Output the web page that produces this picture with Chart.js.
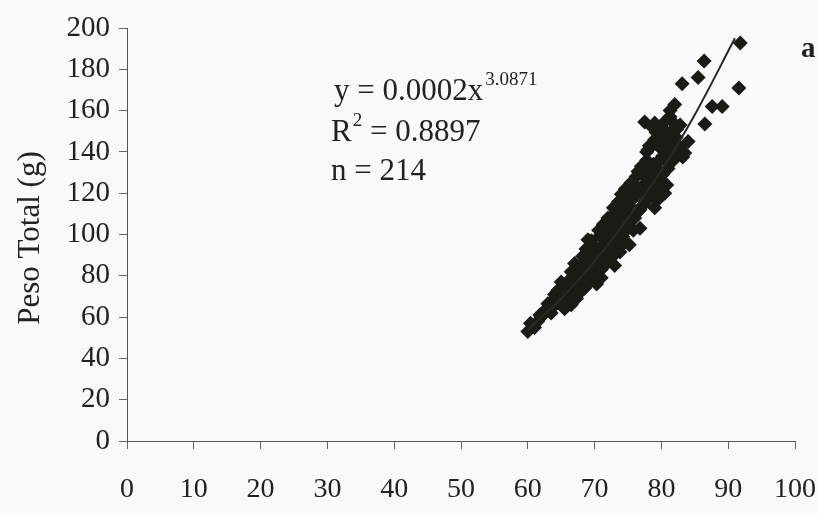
<!DOCTYPE html>
<html>
<head>
<meta charset="utf-8">
<script src="https://cdn.jsdelivr.net/npm/chart.js@4"></script>
<style>
  html, body { margin: 0; padding: 0; background: #f7f9fb; }
  canvas { display: block; }
</style>
</head>
<body>
<canvas id="grafico" width="818" height="513"></canvas>
<script>
// Comprimento (cm) x Peso Total (g)
var comprimento = [
  60.0, 60.4, 61.5, 62.0,
  62.8, 63.5, 64.5, 65.5, 66.5, 67.3, 64.0, 65.8, 63.0,
  64.5, 65.5, 66.5, 67.5, 68.5, 69.5, 66.2, 67.8, 70.3, 71.0, 65.0,
  66.5, 67.0, 67.8, 68.5, 69.3, 70.2, 71.0, 71.8, 72.6, 69.0, 73.0, 68.2,
  68.7, 69.5, 70.3, 71.2, 72.0, 72.8, 73.8, 74.5, 70.8, 73.3, 69.0, 75.2,
  70.6, 71.3, 72.0, 72.8, 73.6, 74.4, 75.2, 76.0, 76.8, 74.6, 73.0,
  72.8, 73.6, 74.4, 75.2, 76.0, 76.8, 77.6, 78.4, 79.0, 79.5, 80.5, 74.0, 75.8,
  74.6, 75.4, 76.2, 77.0, 77.8, 78.6, 79.4, 80.2, 80.8, 76.5, 79.0,
  77.0, 77.8, 78.6, 79.4, 80.2, 81.0, 81.8, 82.4, 77.8, 83.5, 83.2,
  78.2, 79.0, 79.8, 80.6, 81.4, 82.2, 82.8, 79.2, 81.5, 84.0, 78.0,
  77.5, 79.0, 80.0, 81.7, 82.8, 81.3, 81.3, 82.0,
  83.1, 85.5, 86.4, 91.8, 91.6, 87.6, 89.1, 86.5,
  61.0, 61.8, 63.8, 65.0, 66.0, 64.0, 66.0, 67.0, 68.0, 69.0, 70.0, 67.5,
  68.8, 69.8, 70.8, 71.5, 72.3, 70.0, 71.5, 72.5, 73.5, 74.2, 71.8, 73.0,
  73.8, 74.8, 75.8, 72.6, 74.0, 75.0, 76.2, 77.2, 78.0, 75.0, 76.4, 77.2,
  78.0, 79.2, 76.0, 77.6, 79.0, 80.0, 77.8, 78.8, 79.8, 80.6, 81.6, 80.2,
  81.0, 82.0, 79.6, 80.6, 82.3, 78.6
];
var pesoTotal = [
  53, 57, 58, 60,
  64, 62, 67, 64, 66, 69, 69, 70, 66.5,
  73, 75, 72, 76, 74, 78, 78, 79, 76, 79, 77,
  82, 86, 83, 87, 84, 88, 83, 86, 89, 90, 85, 89.5,
  93, 97, 92, 95, 98, 93, 91.5, 96, 99.5, 99, 97.5, 95,
  102, 105, 108, 103, 106, 101, 104, 108, 103, 109.5, 110,
  113, 116, 111, 114, 118, 112, 116, 119, 113, 117, 120, 119.5, 120,
  122, 125, 128, 123, 127, 122, 126, 129, 124, 130.5, 130,
  133, 136, 131, 135, 138, 132, 136, 139, 140, 139.5, 137.5,
  143, 146, 142, 148, 144, 147, 142, 149.5, 150, 145, 141,
  154.5, 154, 152, 154.5, 153, 157, 160, 163,
  173, 176, 184, 192.7, 171, 162, 162, 153.5,
  55, 61, 65, 68, 67.5, 71, 74, 77, 72.5, 76, 80, 81,
  82, 86, 90, 88, 91, 94, 93, 96, 97, 99, 101, 100.5,
  103, 106, 102, 106, 112, 110, 110, 114, 117, 116, 120, 121,
  124, 121, 124, 129, 127.5, 125, 132, 134, 131, 136, 140, 141,
  146, 144, 144.5, 155, 151, 152
];

var curvaX = [60, 65, 70, 75, 80, 85, 91];
var curvaY = [54, 69, 87, 108, 131, 158, 195];

var ticksX = [0, 10, 20, 30, 40, 50, 60, 70, 80, 90, 100];
var ticksY = [0, 20, 40, 60, 80, 100, 120, 140, 160, 180, 200];

var serif = "'Liberation Serif', 'Times New Roman', serif";
var tinta = '#1b1b16';

var pontos = comprimento.map(function (x, i) { return { x: x, y: pesoTotal[i] }; });
var curva = curvaX.map(function (x, i) { return { x: x, y: curvaY[i] }; });

var fundo = {
  id: 'fundo',
  beforeDraw: function (chart) {
    var c = chart.ctx;
    c.save();
    c.fillStyle = '#f7f9fb';
    c.fillRect(0, 0, chart.width, chart.height);
    c.restore();
  }
};

var textos = {
  id: 'textos',
  afterDraw: function (chart) {
    var c = chart.ctx;
    c.save();
    c.fillStyle = '#222';
    c.textBaseline = 'alphabetic';

    // titulo do eixo y
    c.save();
    c.translate(39, 238);
    c.rotate(-Math.PI / 2);
    c.textAlign = 'center';
    c.font = '31px ' + serif;
    c.fillText('Peso Total (g)', 0, 0);
    c.restore();

    // equacao
    c.textAlign = 'left';
    c.font = '31px ' + serif;
    var eq = 'y = 0.0002x';
    c.fillText(eq, 334, 100);
    var w = c.measureText(eq).width;
    c.font = '19px ' + serif;
    c.fillText('3.0871', 334 + w + 2, 85);

    c.font = '31px ' + serif;
    c.fillText('R', 331, 141);
    var wr = c.measureText('R').width;
    c.font = '19px ' + serif;
    c.fillText('2', 331 + wr + 1, 126);
    var w2 = c.measureText('2').width;
    c.font = '31px ' + serif;
    c.fillText(' = 0.8897', 331 + wr + w2 + 1, 141);

    c.fillText('n = 214', 331, 180);

    c.font = 'bold 29px ' + serif;
    c.fillText('a', 801, 57);
    c.restore();
  }
};

var ctx = document.getElementById('grafico');

var grafico = new Chart(ctx, {
  type: 'scatter',
  data: {
    datasets: [{
      label: 'Peso Total',
      data: pontos,
      pointStyle: 'rectRot',
      pointRadius: 7.5,
      backgroundColor: tinta,
      borderColor: tinta,
      borderWidth: 0,
      order: 1
    },
    {
      type: 'line',
      label: 'Ajuste',
      data: curva,
      showLine: true,
      borderColor: '#2a2a24',
      borderWidth: 2,
      pointRadius: 0,
      cubicInterpolationMode: 'monotone',
      fill: false,
      order: 0
    }]
  },
  options: {
    responsive: false,
    animation: false,
    layout: { padding: { top: 28, right: 23, left: 0, bottom: 0 } },
    plugins: {
      legend: { display: false },
      tooltip: { enabled: false }
    },
    scales: {
      x: {
        type: 'linear',
        min: 0,
        max: 100,
        afterBuildTicks: function (s) { s.ticks = ticksX.map(function (v) { return { value: v }; }); },
        afterFit: function (s) { s.height = 72; s.paddingLeft = 0; s.paddingRight = 0; },
        ticks: {
          color: '#222',
          padding: 24,
          maxRotation: 0,
          font: { family: serif, size: 28 }
        },
        grid: { drawOnChartArea: false, tickLength: 8, color: '#666' },
        border: { color: '#555', width: 1 }
      },
      y: {
        min: 0,
        max: 200,
        afterBuildTicks: function (s) { s.ticks = ticksY.map(function (v) { return { value: v }; }); },
        afterFit: function (s) { s.width = 127; s.paddingTop = 0; s.paddingBottom = 0; },
        ticks: {
          color: '#222',
          padding: 9,
          font: { family: serif, size: 29 }
        },
        grid: { drawOnChartArea: false, tickLength: 8, color: '#666' },
        border: { color: '#555', width: 1 }
      }
    }
  },
  plugins: [fundo, textos]
});
</script>
</body>
</html>
